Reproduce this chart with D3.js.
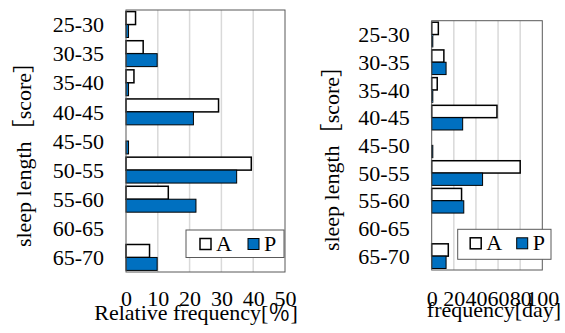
<!DOCTYPE html>
<html>
<head>
<meta charset="utf-8">
<script src="https://cdn.jsdelivr.net/npm/d3@7"></script>
<style>
  body { margin: 0; background: #fff; }
</style>
</head>
<body>
<div id="chart"></div>
<script>
/* globals d3 */
// sleep length classes (score)
const categories = ["25-30", "30-35", "35-40", "40-45", "45-50", "50-55", "55-60", "60-65", "65-70"];
const series_names = ["A", "P"];

// relative frequency [%]
const relative_A = [3.0, 5.4, 2.5, 29.1, 0, 39.4, 13.3, 0, 7.4];
const relative_P = [0.8, 9.8, 0.8, 21.2, 0.8, 34.8, 22.0, 0, 9.8];
const relative_ticks = [0, 10, 20, 30, 40, 50];

// frequency [day]
const days_A = [6, 11, 5, 59, 0, 80, 27, 0, 15];
const days_P = [1, 13, 1, 28, 1, 46, 29, 0, 13];
const days_ticks = [0, 20, 40, 60, 80, 100];

const colors = { A: "#ffffff", P: "#0070c0" };
const serif = "Liberation Serif";
const cjk = "Noto Sans CJK JP";

const svg = d3
  .select("#chart")
  .append("svg")
  .attr("width", 565)
  .attr("height", 333);

function drawPanel(opt) {
  const g = svg.append("g");

  const x = d3
    .scaleLinear()
    .domain([0, d3.max(opt.ticks)])
    .range([opt.left, opt.right]);

  const y = d3
    .scaleBand()
    .domain(categories)
    .range([opt.top, opt.bottom])
    .paddingInner(0.11)
    .paddingOuter(0.055);

  const ySub = d3
    .scaleBand()
    .domain(series_names)
    .range([0, y.bandwidth()]);

  // gridlines
  g.append("g")
    .selectAll("line")
    .data(opt.ticks.slice(1, -1))
    .join("line")
    .attr("x1", (d) => x(d))
    .attr("x2", (d) => x(d))
    .attr("y1", opt.top)
    .attr("y2", opt.bottom)
    .attr("stroke", "#d9d9d9")
    .attr("stroke-width", 1.5);

  const rows = categories.map((c, i) => ({
    cat: c,
    values: [
      { key: "A", v: opt.a[i] },
      { key: "P", v: opt.p[i] },
    ],
  }));

  g.append("g")
    .selectAll("g")
    .data(rows)
    .join("g")
    .attr("transform", (d) => `translate(0,${y(d.cat)})`)
    .selectAll("rect")
    .data((d) => d.values)
    .join("rect")
    .attr("x", x(0))
    .attr("y", (d) => ySub(d.key))
    .attr("width", (d) => x(d.v) - x(0))
    .attr("height", ySub.bandwidth())
    .attr("fill", (d) => colors[d.key])
    .attr("stroke", "#000")
    .attr("stroke-width", (d) => (d.key === "A" ? 1.5 : 1));

  // plot frame
  g.append("rect")
    .attr("x", opt.left)
    .attr("y", opt.top)
    .attr("width", opt.right - opt.left)
    .attr("height", opt.bottom - opt.top)
    .attr("fill", "none")
    .attr("stroke", "#595959")
    .attr("stroke-width", 1);

  // category labels
  g.append("g")
    .selectAll("text")
    .data(categories)
    .join("text")
    .attr("x", opt.left - 22)
    .attr("y", (d) => y(d) + y.bandwidth() / 2)
    .attr("dy", "0.35em")
    .attr("text-anchor", "end")
    .attr("font-family", serif)
    .attr("font-size", 22)
    .text((d) => d);

  // x axis (labels only)
  g.append("g")
    .attr("transform", `translate(0,${opt.bottom})`)
    .call(d3.axisBottom(x).tickValues(opt.ticks).tickSize(0).tickPadding(opt.tickPad))
    .call((ax) => ax.select(".domain").remove())
    .call((ax) =>
      ax
        .selectAll("text")
        .attr("fill", "#000")
        .attr("font-family", serif)
        .attr("font-size", 22)
    );

  const xt = g
    .append("text")
    .attr("x", opt.xTitleX)
    .attr("y", opt.xTitleY)
    .attr("text-anchor", "middle")
    .attr("font-family", serif)
    .attr("font-size", 22);
  xt.append("tspan").attr("font-family", serif).text(opt.xTitle[0]);
  if (opt.xTitle[1]) xt.append("tspan").attr("font-family", cjk).text(opt.xTitle[1]);
  if (opt.xTitle[2]) xt.append("tspan").attr("font-family", serif).text(opt.xTitle[2]);

  const yt = g
    .append("text")
    .attr("transform", `translate(${opt.yTitleX},${opt.yTitleY}) rotate(-90)`)
    .attr("text-anchor", "middle")
    .attr("font-family", serif)
    .attr("font-size", 22);
  yt.append("tspan").attr("font-family", serif).text("sleep length");
  yt.append("tspan").attr("font-family", cjk).text("［");
  yt.append("tspan").attr("font-family", serif).text("score");
  yt.append("tspan").attr("font-family", cjk).text("］");

  // legend
  const lg = g.append("g").attr("transform", `translate(${opt.legend.x},${opt.legend.y})`);
  lg.append("rect")
    .attr("width", opt.legend.w)
    .attr("height", opt.legend.h)
    .attr("fill", "#fff")
    .attr("stroke", "#595959");
  series_names.forEach(function (name, i) {
    const ox = opt.legend.items[i];
    lg.append("rect")
      .attr("x", ox)
      .attr("y", 8.5)
      .attr("width", 11)
      .attr("height", 11)
      .attr("fill", colors[name])
      .attr("stroke", "#000")
      .attr("stroke-width", name === "A" ? 1.5 : 1);
    lg.append("text")
      .attr("x", ox + 16)
      .attr("y", 21)
      .attr("font-family", serif)
      .attr("font-size", 22)
      .text(name);
  });
}

drawPanel({
  a: relative_A,
  p: relative_P,
  ticks: relative_ticks,
  left: 126,
  right: 285,
  top: 10,
  bottom: 272,
  tickPad: 18,
  xTitle: ["Relative frequency[", "％", "]"],
  xTitleX: 196,
  xTitleY: 320,
  yTitleX: 31,
  yTitleY: 149,
  legend: { x: 186, y: 230, w: 98, h: 27.5, items: [14, 62] },
});

drawPanel({
  a: days_A,
  p: days_P,
  ticks: days_ticks,
  left: 431.7,
  right: 542.3,
  top: 20.7,
  bottom: 270,
  tickPad: 20,
  xTitle: ["frequency[day]"],
  xTitleX: 494,
  xTitleY: 317,
  yTitleX: 339,
  yTitleY: 153,
  legend: { x: 457.7, y: 229.3, w: 93.3, h: 30, items: [12.5, 59] },
});
</script>
</body>
</html>
